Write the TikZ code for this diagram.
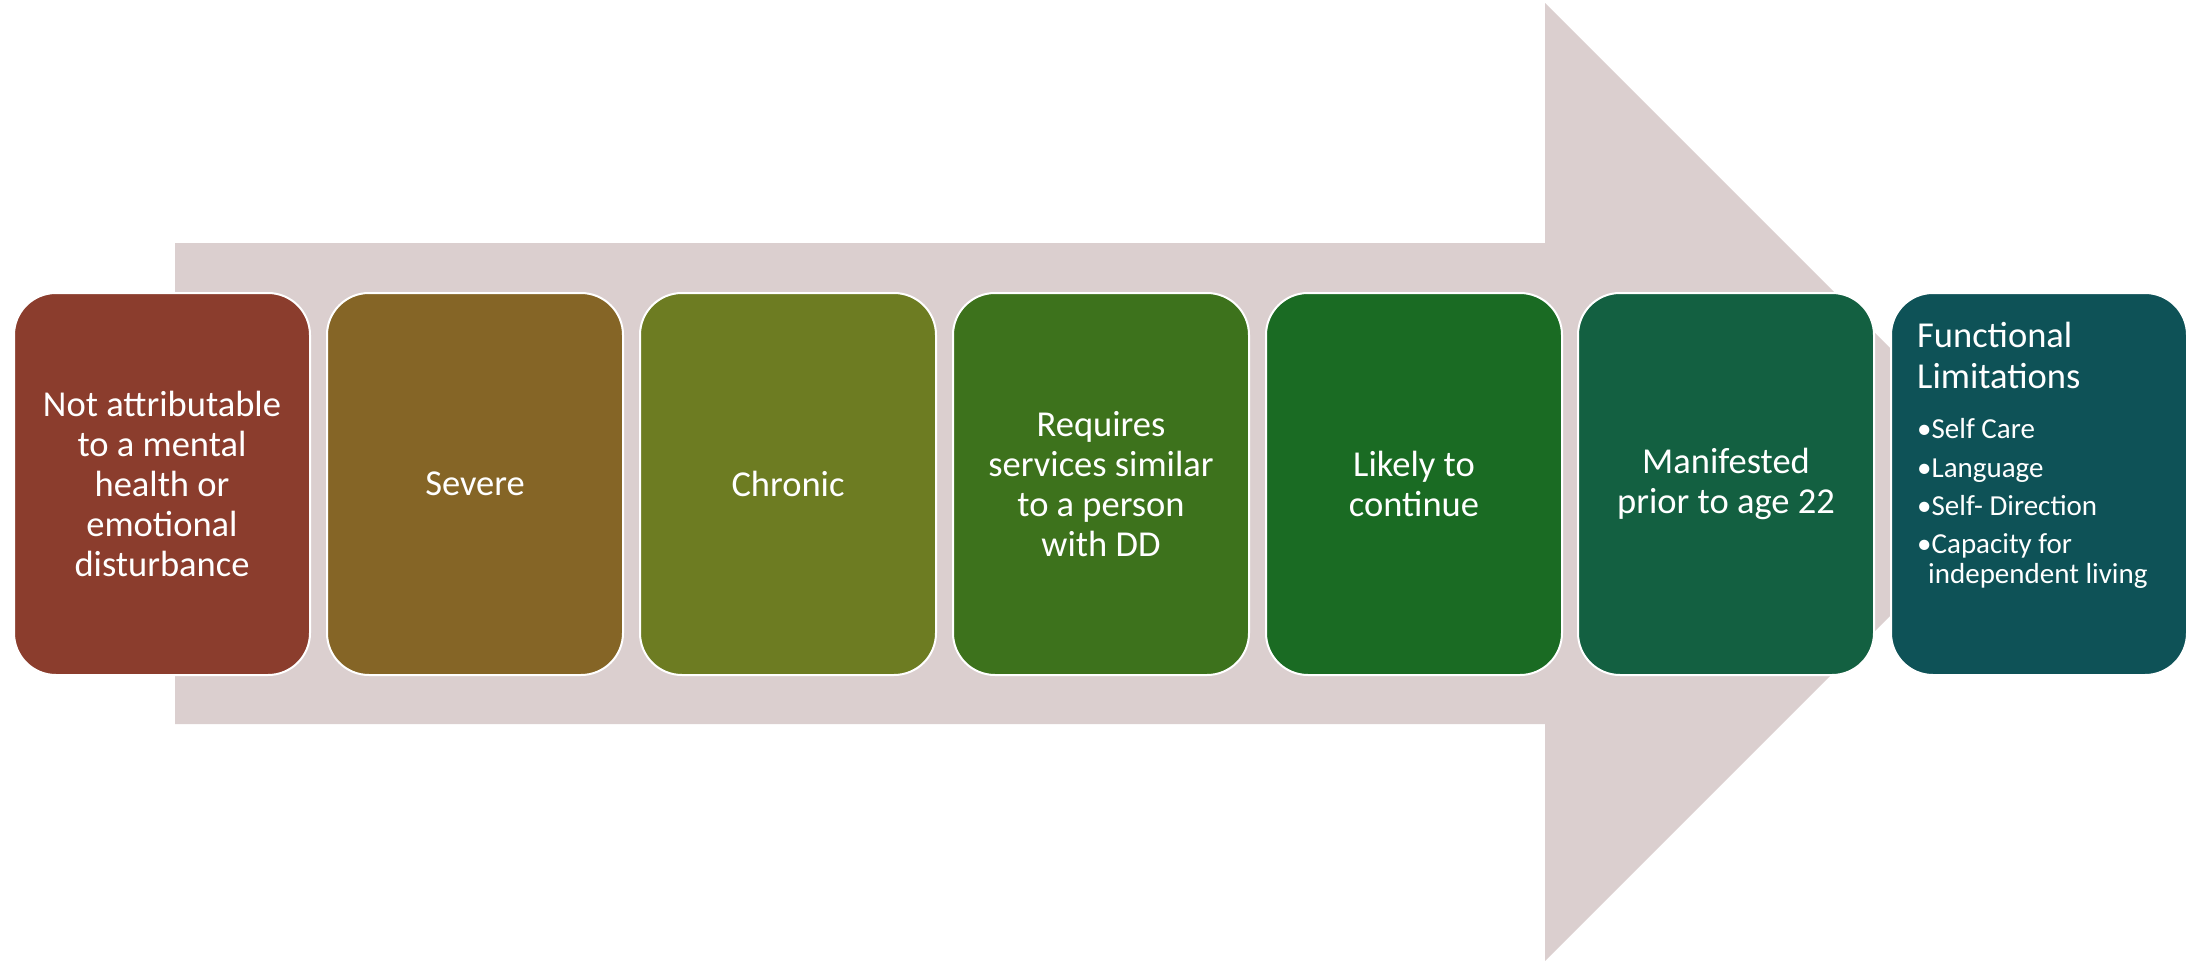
\documentclass[tikz,border=0pt]{standalone}
\usepackage{fontspec}
\setmainfont{Carlito}
\definecolor{arrowc}{RGB}{219,207,207}
\definecolor{c1}{RGB}{139,61,45}
\definecolor{c2}{RGB}{133,101,38}
\definecolor{c3}{RGB}{109,124,34}
\definecolor{c4}{RGB}{61,114,28}
\definecolor{c5}{RGB}{26,107,35}
\definecolor{c6}{RGB}{19,96,65}
\definecolor{c7}{RGB}{14,82,87}
\begin{document}
\begin{tikzpicture}[x=1pt,y=-1pt,
  box/.style={draw=white, line width=2pt, rounded corners=42pt, minimum width=296pt, minimum height=382pt, inner sep=0pt, text=white, align=center, font=\fontsize{36.5}{40}\selectfont, anchor=north west},
  ttl/.style={anchor=base west, inner sep=0pt, text=white, font=\fontsize{36.5}{40}\selectfont},
  bul/.style={anchor=base west, inner sep=0pt, text=white, font=\fontsize{29}{32}\selectfont}]
\useasboundingbox (0,0) rectangle (2188,961);
\fill[arrowc] (175,243) -- (1545,243) -- (1545,3) -- (2024,482) -- (1545,961) -- (1545,724) -- (175,724) -- cycle;
\node[box, fill=c1] (b1) at (13,292) {Not attributable\\to a mental\\health or\\emotional\\disturbance};
\node[box, fill=c2] (b2) at (326,292) {Severe};
\node[box, fill=c3] (b3) at (639,292) {Chronic};
\node[box, fill=c4] (b4) at (952,292) {Requires\\services similar\\to a person\\with DD};
\node[box, fill=c5] (b5) at (1265,292) {Likely to\\continue};
\node[box, fill=c6] (b6) at (1577,292) {Manifested\\prior to age 22};
\node[box, fill=c7] (b7) at (1890,292) {};
\node[ttl] (t1) at (1917,347) {Functional};
\node[ttl] (t2) at (1917,388) {Limitations};
\node[bul] (u1) at (1917,438) {•Self Care};
\node[bul] (u2) at (1917,477) {•Language};
\node[bul] (u3) at (1917,515) {•Self- Direction};
\node[bul] (u4) at (1917,553) {•Capacity for};
\node[bul] (u5) at (1928,583) {independent living};
\end{tikzpicture}
\end{document}
